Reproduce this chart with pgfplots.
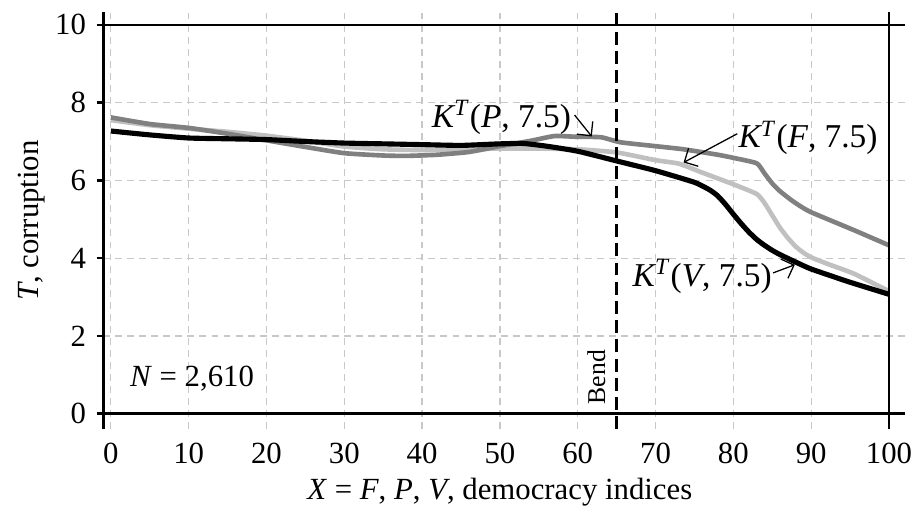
\documentclass[border=0pt]{standalone}
\usepackage{pgfplots}
\pgfplotsset{compat=1.18}
\usepackage{fontspec}
\setmainfont{Liberation Serif}
\usetikzlibrary{arrows.meta}
\definecolor{lgray}{RGB}{192,192,192}
\definecolor{dgray}{RGB}{128,128,128}
\definecolor{gridgray}{RGB}{200,200,200}
\begin{document}
\fontsize{12}{14}\selectfont
\begin{tikzpicture}
\begin{axis}[
  scale only axis, width=312.6pt, height=162.7pt,
  xmin=-1, xmax=102, ymin=-0.4, ymax=10.33,
  xtick={0,10,...,100}, ytick={0,2,...,10},
  axis line style={draw=none},
  grid=major,
  major grid style={gridgray, line width=0.5pt, dash pattern=on 2.7pt off 2pt},
  xtick style={draw=none},
  ytick style={black, line width=1pt},
  tick align=outside, major tick length=2.5pt,
  xtick pos=bottom, ytick pos=left,
  /pgf/number format/assume math mode=true,
  tick label style={font=\fontsize{12}{14}\selectfont},
  xticklabel style={yshift=-0.8pt, inner sep=2pt},
  xlabel={\textit{X} = \textit{F}, \textit{P}, \textit{V}, democracy indices},
  ylabel={\textit{T}, corruption},
  xlabel style={at={(axis description cs:0.495,-0.152)}, anchor=center, inner sep=0pt},
  ylabel style={at={(axis description cs:-0.0886,0.5)}, anchor=center},
  clip=false,
]
% F (light gray)
\addplot[lgray, line width=1.8pt, line join=round, smooth, tension=0.3] coordinates {
(0,7.55) (5,7.42) (10,7.33) (15,7.25) (20,7.15) (25,7.02) (30,6.87) (35,6.8)
(40,6.78) (45,6.8) (50,6.82) (55,6.82) (60,6.8) (65,6.72) (70,6.52) (73,6.43)
(76,6.2) (80,5.9) (83,5.65) (84,5.42) (85,5.1) (86,4.78) (87,4.52) (88,4.3)
(89,4.14) (90,4.02) (92,3.86) (95.5,3.6) (100,3.15)};
% P (dark gray)
\addplot[dgray, line width=1.8pt, line join=round, smooth, tension=0.3] coordinates {
(0,7.62) (5,7.45) (10,7.35) (15,7.2) (20,7.03) (25,6.86) (30,6.7) (35,6.64)
(38,6.63) (42,6.66) (46,6.73) (50,6.88) (54,7.02) (57,7.14) (60,7.12) (63,7.11)
(65.5,6.98) (70,6.88) (73.6,6.8) (78,6.66) (80,6.58) (83,6.44) (84,6.18)
(85,5.92) (86,5.72) (87.4,5.5) (88.5,5.35) (90,5.18) (95.5,4.72) (100,4.33)};
% V (black)
\addplot[black, line width=2pt, line join=round, smooth, tension=0.3] coordinates {
(0,7.27) (5,7.17) (10,7.09) (15,7.07) (20,7.05) (25,7.0) (30,6.96) (35,6.94)
(40,6.92) (45,6.9) (50,6.94) (53,6.95) (56,6.88) (60,6.75) (65,6.5) (70,6.25)
(75,5.95) (77,5.75) (78,5.6) (79,5.38) (80,5.13) (81,4.89) (82,4.67) (83,4.48)
(84,4.33) (85,4.2) (86,4.09) (88,3.9) (90,3.72) (95,3.38) (100,3.07)};
% frame lines
\draw[line width=1.2pt] (axis cs:-1,-0.4) -- (axis cs:-1,10.33);
\draw[line width=1.2pt] (axis cs:-1,0) -- (axis cs:102,0);
\draw[line width=0.5pt] (axis cs:-1,10) -- (axis cs:102,10);
\draw[line width=0.5pt] (axis cs:100,-0.4) -- (axis cs:100,10.33);
\draw[line width=1pt, dash pattern=on 5pt off 2.5pt] (axis cs:65,-0.4) -- (axis cs:65,10.33);
% annotations
\node[anchor=west, inner sep=0] at (axis cs:2.4,0.9) {\textit{N} = 2,610};
\node[rotate=90, inner sep=0, font=\fontsize{10}{12}\selectfont] at (axis cs:62.4,0.94) {Bend};
\begin{scope}[every node/.style={font=\fontsize{13}{15}\selectfont}]
\node[anchor=west, inner sep=0] at (axis cs:41.2,7.62) {\textit{K}\kern-0.5pt\textsuperscript{\textit{T}}(\textit{P}, 7.5)};
\node[anchor=west, inner sep=0] at (axis cs:80.6,7.09) {\textit{K}\kern-0.5pt\textsuperscript{\textit{T}}(\textit{F}, 7.5)};
\node[anchor=west, inner sep=0] at (axis cs:67.0,3.53) {\textit{K}\kern-0.5pt\textsuperscript{\textit{T}}(\textit{V}, 7.5)};
\end{scope}
\draw[line width=0.5pt, -{Straight Barb[length=4pt]}] (axis cs:59.6,7.68) -- (axis cs:61.8,7.13);
\draw[line width=0.5pt, -{Straight Barb[length=4pt]}] (axis cs:80.5,7.2) -- (axis cs:73.6,6.46);
\draw[line width=0.5pt, -{Straight Barb[length=4pt]}] (axis cs:85.1,3.62) -- (axis cs:87.9,3.83);
\end{axis}
\pgfresetboundingbox
\path ([xshift=-40.2pt,yshift=-31.4pt]current axis.south west) rectangle ([xshift=7.2pt,yshift=4.7pt]current axis.north east);
\end{tikzpicture}
\end{document}
